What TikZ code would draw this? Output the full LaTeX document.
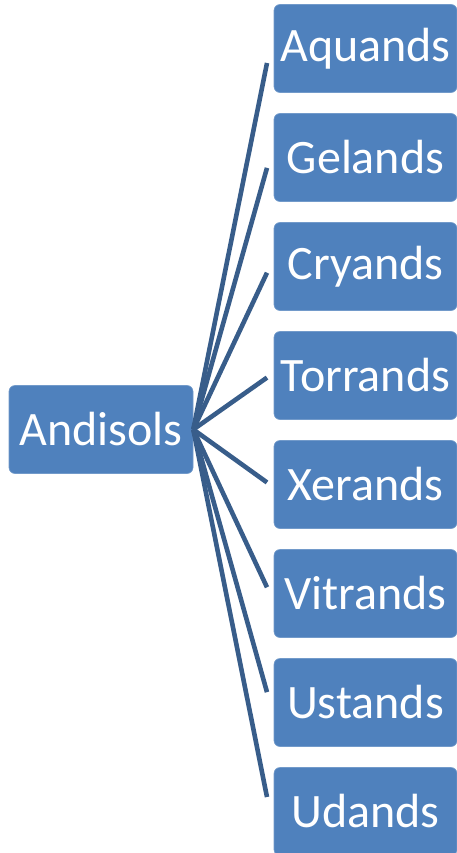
\documentclass[tikz,border=0pt]{standalone}
\usepackage{fontspec}
\setmainfont{Carlito}
\usetikzlibrary{positioning}
\definecolor{soilblue}{RGB}{79,129,189}
\definecolor{linkblue}{RGB}{56,93,138}

\begin{document}
\begin{tikzpicture}[x=1pt, y=-1pt,
    every node/.style={font=\fontsize{48}{50}\selectfont, text=white},
    soilbox/.style={rectangle, rounded corners=6pt, fill=soilblue, draw=soilblue!80!white,
        line width=0.6pt, minimum height=88pt, inner sep=0pt},
    link/.style={draw=linkblue, line width=4.6pt}]
    \useasboundingbox (0,0) rectangle (457,853);
    % order
    \node[soilbox, minimum width=184pt] (andisols) at (101,429.5) {Andisols};
    % suborders
    \foreach \name/\label [count=\i from 0] in {aquands/Aquands, gelands/Gelands,
        cryands/Cryands, torrands/Torrands, xerands/Xerands, vitrands/Vitrands,
        ustands/Ustands, udands/Udands} {
        \node[soilbox, minimum width=183pt] (\name) at (365.5,48.5+109*\i) {\label};
        \coordinate (\name-end) at (267,63+104.86*\i);
        \draw[link] (andisols.east) -- (\name-end);
    }
\end{tikzpicture}
\end{document}
